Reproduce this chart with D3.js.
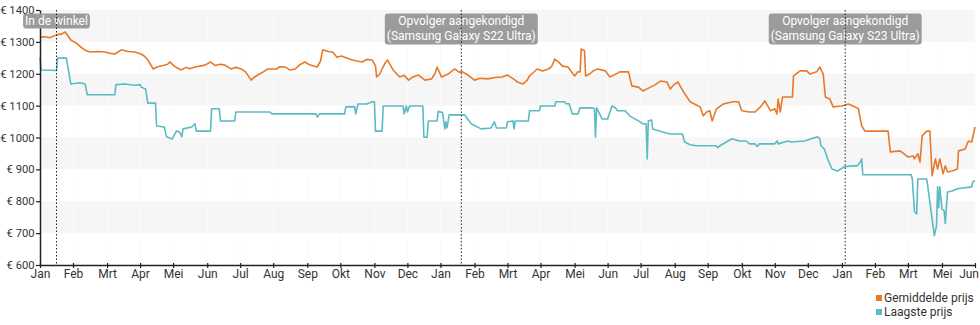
<!DOCTYPE html>
<html>
<head>
<meta charset="utf-8">
<script src="https://cdn.jsdelivr.net/npm/d3@7"></script>
<style>
  body { margin: 0; background: #fff; }
  svg { display: block; font-family: Roboto, "Noto Sans", "DejaVu Sans", sans-serif; }
</style>
</head>
<body>
<svg id="chart" width="980" height="325"></svg>
<script>
// Price axis ticks (euro)
const yTickValues = [600, 700, 800, 900, 1000, 1100, 1200, 1300, 1400];

// Month ticks along the time axis and their labels
const xTickDates = ["2021-01-01","2021-01-31","2021-03-03","2021-04-02","2021-05-02","2021-06-02",
  "2021-07-02","2021-08-01","2021-09-01","2021-10-01","2021-11-01","2021-12-01","2021-12-31",
  "2022-01-31","2022-03-02","2022-04-01","2022-05-02","2022-06-01","2022-07-01","2022-08-01",
  "2022-08-31","2022-10-01","2022-10-31","2022-11-30","2022-12-31","2023-01-30","2023-03-01",
  "2023-04-01","2023-05-01"];
const xTickLabels = ["Jan","Feb","Mrt","Apr","Mei","Jun","Jul","Aug","Sep","Okt","Nov","Dec",
  "Jan","Feb","Mrt","Apr","Mei","Jun","Jul","Aug","Sep","Okt","Nov","Dec",
  "Jan","Feb","Mrt","Mei","Jun"];

// Event markers
const eventDates = ["2021-01-16", "2022-01-19", "2023-01-03"];
const eventLabels = [
  ["In de winkel"],
  ["Opvolger aangekondigd", "(Samsung Galaxy S22 Ultra)"],
  ["Opvolger aangekondigd", "(Samsung Galaxy S23 Ultra)"]
];

const seriesNames = ["Gemiddelde prijs", "Laagste prijs"];
const seriesColors = ["#e8792b", "#5bbac3"];

// Average price
const avgPrice = [
  ["2021-01-01",1314],["2021-01-05",1316],["2021-01-10",1313],["2021-01-16",1322],["2021-01-21",1325],
  ["2021-01-24",1331],["2021-01-29",1306],["2021-02-03",1296],["2021-02-07",1284],["2021-02-12",1272],
  ["2021-02-16",1268],["2021-02-23",1270],["2021-03-01",1268],["2021-03-06",1264],["2021-03-10",1262],
  ["2021-03-16",1275],["2021-03-22",1270],["2021-03-28",1268],["2021-04-03",1262],["2021-04-06",1255],
  ["2021-04-09",1243],["2021-04-14",1215],["2021-04-18",1222],["2021-04-23",1226],["2021-04-27",1230],
  ["2021-04-29",1237],["2021-05-03",1224],["2021-05-06",1218],["2021-05-09",1212],["2021-05-14",1220],
  ["2021-05-17",1216],["2021-05-22",1221],["2021-05-26",1224],["2021-05-31",1227],["2021-06-05",1237],
  ["2021-06-09",1226],["2021-06-14",1230],["2021-06-18",1227],["2021-06-24",1215],["2021-06-28",1220],
  ["2021-07-03",1215],["2021-07-07",1205],["2021-07-12",1180],["2021-07-15",1190],["2021-07-18",1196],
  ["2021-07-23",1206],["2021-07-27",1215],["2021-08-04",1215],["2021-08-07",1222],["2021-08-12",1221],
  ["2021-08-16",1212],["2021-08-21",1215],["2021-08-25",1228],["2021-08-30",1237],["2021-09-03",1228],
  ["2021-09-10",1221],["2021-09-13",1240],["2021-09-15",1275],["2021-09-20",1270],["2021-09-24",1268],
  ["2021-09-28",1252],["2021-10-02",1256],["2021-10-05",1252],["2021-10-12",1243],["2021-10-16",1240],
  ["2021-10-21",1237],["2021-10-25",1245],["2021-10-30",1243],["2021-11-02",1225],["2021-11-03",1190],
  ["2021-11-06",1200],["2021-11-08",1215],["2021-11-11",1235],["2021-11-13",1243],["2021-11-18",1212],
  ["2021-11-24",1190],["2021-11-28",1195],["2021-12-02",1180],["2021-12-06",1190],["2021-12-11",1196],
  ["2021-12-14",1188],["2021-12-17",1180],["2021-12-23",1184],["2021-12-26",1200],["2021-12-28",1221],
  ["2022-01-01",1190],["2022-01-07",1199],["2022-01-13",1215],["2022-01-17",1205],["2022-01-20",1206],
  ["2022-01-25",1196],["2022-01-31",1180],["2022-02-05",1186],["2022-02-12",1184],["2022-02-19",1188],
  ["2022-02-25",1190],["2022-03-02",1196],["2022-03-09",1180],["2022-03-11",1174],["2022-03-16",1168],
  ["2022-03-20",1180],["2022-03-22",1193],["2022-03-29",1215],["2022-04-03",1209],["2022-04-08",1215],
  ["2022-04-11",1222],["2022-04-14",1246],["2022-04-18",1235],["2022-04-21",1224],["2022-04-26",1221],
  ["2022-05-02",1193],["2022-05-05",1206],["2022-05-07",1206],["2022-05-08",1278],["2022-05-11",1272],
  ["2022-05-12",1193],["2022-05-16",1200],["2022-05-19",1209],["2022-05-23",1215],["2022-05-30",1209],
  ["2022-06-03",1190],["2022-06-08",1198],["2022-06-12",1206],["2022-06-20",1206],["2022-06-23",1162],
  ["2022-06-29",1158],["2022-07-03",1146],["2022-07-10",1158],["2022-07-14",1165],["2022-07-19",1177],
  ["2022-07-25",1174],["2022-07-28",1152],["2022-07-31",1165],["2022-08-04",1174],["2022-08-09",1143],
  ["2022-08-15",1112],["2022-08-19",1105],["2022-08-24",1096],["2022-08-27",1068],["2022-08-30",1080],
  ["2022-09-02",1084],["2022-09-04",1052],["2022-09-08",1090],["2022-09-14",1105],["2022-09-23",1112],
  ["2022-09-28",1112],["2022-10-01",1084],["2022-10-08",1080],["2022-10-13",1080],["2022-10-18",1096],
  ["2022-10-22",1115],["2022-10-27",1084],["2022-10-31",1090],["2022-11-02",1074],["2022-11-03",1121],
  ["2022-11-05",1080],["2022-11-07",1127],["2022-11-16",1127],["2022-11-17",1193],["2022-11-23",1209],
  ["2022-11-29",1209],["2022-12-02",1199],["2022-12-08",1206],["2022-12-11",1221],["2022-12-14",1199],
  ["2022-12-16",1127],["2022-12-20",1121],["2022-12-23",1096],["2022-12-31",1099],["2023-01-06",1105],
  ["2023-01-12",1096],["2023-01-15",1090],["2023-01-18",1036],["2023-01-21",1020],["2023-02-02",1020],
  ["2023-02-11",1020],["2023-02-13",955],["2023-02-22",958],["2023-03-01",939],["2023-03-06",942],
  ["2023-03-07",933],["2023-03-10",949],["2023-03-12",923],["2023-03-14",1005],["2023-03-18",1020],
  ["2023-03-21",1020],["2023-03-23",880],["2023-03-26",933],["2023-03-28",901],["2023-03-30",933],
  ["2023-04-02",886],["2023-04-04",911],["2023-04-06",892],["2023-04-10",895],["2023-04-15",901],
  ["2023-04-16",958],["2023-04-22",964],["2023-04-25",989],["2023-04-28",986],["2023-05-01",1033]
];

// Lowest price
const lowPrice = [
  ["2021-01-01",1252],["2021-01-02",1212],["2021-01-16",1210],["2021-01-17",1249],["2021-01-25",1249],
  ["2021-01-29",1168],["2021-02-06",1172],["2021-02-11",1168],["2021-02-13",1134],["2021-03-10",1134],
  ["2021-03-11",1166],["2021-03-19",1168],["2021-03-28",1164],["2021-04-02",1166],["2021-04-03",1158],
  ["2021-04-07",1152],["2021-04-09",1108],["2021-04-16",1108],["2021-04-17",1036],["2021-04-24",1033],
  ["2021-04-26",1002],["2021-05-01",995],["2021-05-05",1020],["2021-05-08",1017],["2021-05-10",1002],
  ["2021-05-11",1027],["2021-05-19",1033],["2021-05-22",1043],["2021-05-23",1020],["2021-06-05",1020],
  ["2021-06-06",1090],["2021-06-13",1090],["2021-06-14",1052],["2021-06-27",1052],["2021-06-28",1080],
  ["2021-07-29",1080],["2021-07-31",1074],["2021-09-09",1074],["2021-09-10",1064],["2021-09-12",1074],
  ["2021-10-05",1074],["2021-10-06",1096],["2021-10-14",1097],["2021-10-15",1074],["2021-10-17",1105],
  ["2021-10-25",1105],["2021-10-30",1112],["2021-11-01",1112],["2021-11-02",1020],["2021-11-08",1020],
  ["2021-11-09",1099],["2021-11-27",1099],["2021-11-28",1074],["2021-11-30",1099],["2021-12-01",1080],
  ["2021-12-03",1099],["2021-12-15",1099],["2021-12-16",1001],["2021-12-19",1001],["2021-12-20",1052],
  ["2021-12-28",1052],["2021-12-29",1082],["2022-01-02",1078],["2022-01-04",1027],["2022-01-05",1049],
  ["2022-01-06",1030],["2022-01-08",1071],["2022-01-22",1071],["2022-01-28",1043],["2022-02-06",1027],
  ["2022-02-15",1030],["2022-02-18",1049],["2022-02-20",1030],["2022-03-01",1030],["2022-03-02",1049],
  ["2022-03-07",1052],["2022-03-08",1027],["2022-03-09",1052],["2022-03-21",1052],["2022-03-22",1084],
  ["2022-03-31",1084],["2022-04-01",1099],["2022-04-14",1099],["2022-04-15",1112],["2022-04-23",1112],
  ["2022-04-24",1106],["2022-04-27",1106],["2022-04-30",1074],["2022-05-05",1074],["2022-05-07",1093],
  ["2022-05-18",1093],["2022-05-20",1090],["2022-05-21",1001],["2022-05-22",1093],["2022-05-27",1058],
  ["2022-06-01",1058],["2022-06-05",1099],["2022-06-08",1093],["2022-06-10",1084],["2022-06-17",1084],
  ["2022-06-21",1068],["2022-06-29",1052],["2022-07-03",1043],["2022-07-06",1043],["2022-07-07",933],
  ["2022-07-08",1052],["2022-07-11",1055],["2022-07-12",1027],["2022-07-21",1017],["2022-07-28",1011],
  ["2022-08-08",1011],["2022-08-10",986],["2022-08-15",977],["2022-08-21",974],["2022-09-08",974],
  ["2022-09-09",968],["2022-09-11",974],["2022-09-17",986],["2022-09-22",996],["2022-09-29",989],
  ["2022-10-05",989],["2022-10-08",980],["2022-10-13",980],["2022-10-15",972],["2022-10-17",980],
  ["2022-10-31",980],["2022-11-02",989],["2022-11-03",980],["2022-11-12",989],["2022-11-15",986],
  ["2022-11-27",989],["2022-12-03",996],["2022-12-09",1002],["2022-12-11",996],["2022-12-12",974],
  ["2022-12-15",964],["2022-12-18",933],["2022-12-22",901],["2022-12-27",895],["2023-01-02",908],
  ["2023-01-09",911],["2023-01-14",911],["2023-01-17",925],["2023-01-18",933],["2023-01-19",883],
  ["2023-03-04",883],["2023-03-05",870],["2023-03-07",767],["2023-03-09",760],["2023-03-10",870],
  ["2023-03-18",870],["2023-03-19",849],["2023-03-25",692],["2023-03-27",723],["2023-03-28",845],
  ["2023-03-29",780],["2023-03-30",845],["2023-04-01",775],["2023-04-03",770],["2023-04-04",730],
  ["2023-04-06",829],["2023-04-10",832],["2023-04-15",839],["2023-04-28",845],["2023-04-29",861],
  ["2023-05-01",864]
];

const parse = d3.utcParse("%Y-%m-%d");
const svg = d3.select("#chart");
const W = +svg.attr("width");

const plot = { left: 40, right: 975, top: 10, bottom: 265 };

const x = d3.scaleUtc()
  .domain([parse("2021-01-01"), parse("2023-05-01")])
  .range([plot.left, plot.right]);

const y = d3.scaleLinear()
  .domain([600, 1400])
  .range([plot.bottom, plot.top]);

// Alternating horizontal bands
const bandBottoms = yTickValues.slice(0, -1).filter((v, i) => i % 2 === 1);
svg.append("g")
  .selectAll("rect")
  .data(bandBottoms)
  .join("rect")
  .attr("x", plot.left)
  .attr("width", plot.right - plot.left)
  .attr("y", d => y(d + 100))
  .attr("height", d => y(d) - y(d + 100))
  .attr("fill", "#f6f6f6");

// Faint vertical month lines
svg.append("g")
  .selectAll("line")
  .data(xTickDates.slice(1))
  .join("line")
  .attr("x1", d => x(parse(d)))
  .attr("x2", d => x(parse(d)))
  .attr("y1", plot.top)
  .attr("y2", plot.bottom)
  .attr("stroke", "#fbfbfb")
  .attr("stroke-width", 1);

// Price lines
const line = d3.line()
  .x(d => x(parse(d[0])))
  .y(d => y(d[1]));

[avgPrice, lowPrice].forEach((series, i) => {
  svg.append("path")
    .datum(series)
    .attr("d", line)
    .attr("fill", "none")
    .attr("stroke", seriesColors[i])
    .attr("stroke-width", 1.6)
    .attr("stroke-linejoin", "round");
});

// Axes
const axisColor = "#222";
const yAxis = svg.append("g")
  .attr("transform", `translate(${plot.left},0)`)
  .call(d3.axisLeft(y)
    .tickValues(yTickValues)
    .tickFormat(d => "€ " + d)
    .tickSize(4)
    .tickSizeOuter(0)
    .tickPadding(1.5));

const xAxis = svg.append("g")
  .attr("transform", `translate(0,${plot.bottom})`)
  .call(d3.axisBottom(x)
    .tickValues(xTickDates.map(parse))
    .tickFormat((d, i) => xTickLabels[i])
    .tickSize(3)
    .tickSizeOuter(0)
    .tickPadding(1));
xAxis.selectAll(".tick line").attr("y1", -2);

[yAxis, xAxis].forEach(g => {
  g.select(".domain").attr("stroke", axisColor).attr("stroke-width", 1.5);
  g.selectAll(".tick line").attr("stroke", axisColor).attr("stroke-width", 1.2);
  g.selectAll(".tick text")
    .attr("fill", "#333")
    .style("font-family", "Roboto, 'Noto Sans', sans-serif");
});
yAxis.selectAll(".tick text").style("font-size", "11.2px");
xAxis.selectAll(".tick text").style("font-size", "12px");

// Keep the last month label inside the drawing area
xAxis.selectAll(".tick text").each(function () {
  const b = this.getBBox();
  const tx = x.invert ? 0 : 0;
  const parentX = +this.parentNode.getAttribute("transform").match(/translate\(([-\d.]+)/)[1];
  const overflow = parentX + b.x + b.width - (W - 1);
  if (overflow > 0) d3.select(this).attr("x", -overflow);
});

// Event markers: label box with dotted vertical line
eventDates.forEach((ds, i) => {
  const cx = x(parse(ds));
  const g = svg.append("g");
  const rect = g.append("rect");
  const text = g.append("text")
    .attr("fill", "#fff")
    .style("font-size", "12px");
  eventLabels[i].forEach((t, j) => {
    text.append("tspan")
      .attr("x", cx)
      .attr("y", 24.5 + j * 15)
      .attr("text-anchor", "middle")
      .text(t);
  });
  const bb = text.node().getBBox();
  const n = eventLabels[i].length;
  rect.attr("x", bb.x - 2)
    .attr("y", 13.5)
    .attr("width", bb.width + 4)
    .attr("height", 16 * n - 1)
    .attr("rx", 3)
    .attr("fill", "#9b9b9b");

  svg.append("line")
    .attr("x1", cx).attr("x2", cx)
    .attr("y1", plot.top).attr("y2", plot.bottom)
    .attr("stroke", "#222")
    .attr("stroke-width", 1)
    .attr("stroke-dasharray", "1.5,2");
});

// Legend
const legend = svg.append("g").attr("transform", "translate(876,295)");
seriesNames.forEach((name, i) => {
  legend.append("rect")
    .attr("x", 0).attr("y", i * 14)
    .attr("width", 6).attr("height", 6)
    .attr("fill", seriesColors[i]);
  legend.append("text")
    .attr("x", 8).attr("y", i * 14 + 6.5)
    .attr("fill", "#333")
    .style("font-size", "12px")
    .text(name);
});
</script>
</body>
</html>
